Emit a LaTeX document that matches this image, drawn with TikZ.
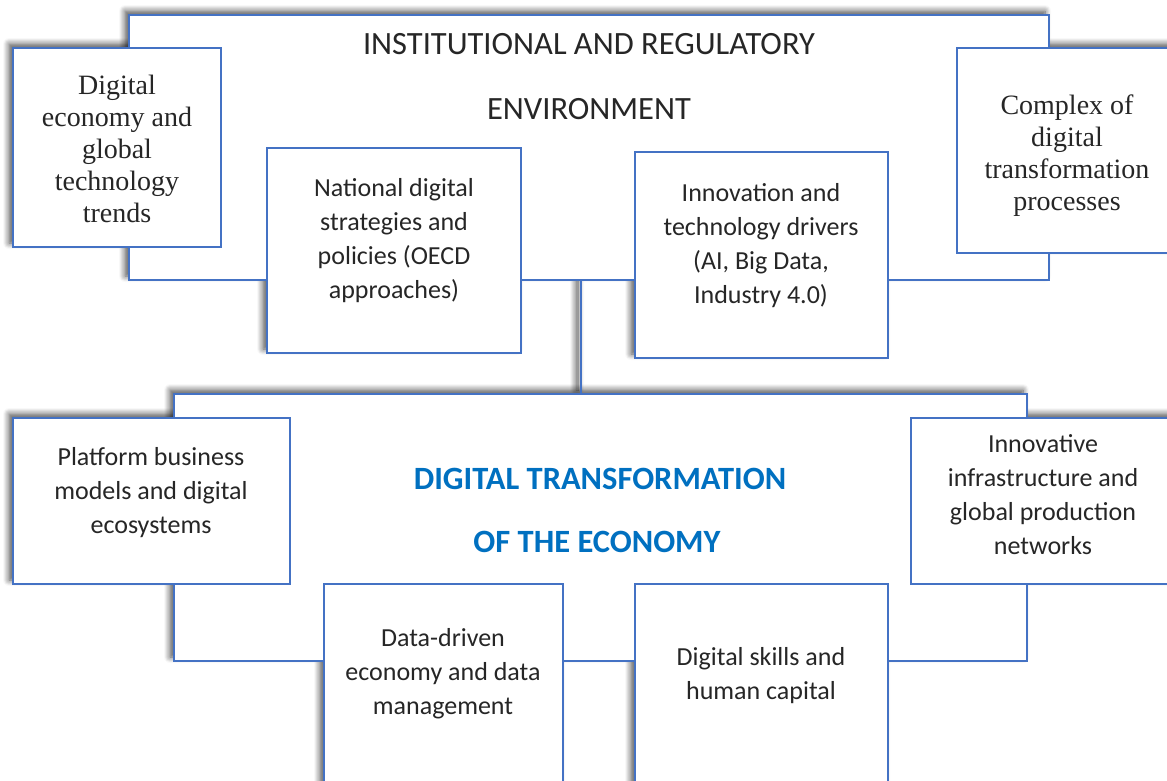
\documentclass[tikz,border=0pt]{standalone}
\usepackage{fontspec}
\setmainfont{Liberation Serif}
\newfontfamily\calfont{Carlito}
\usetikzlibrary{shadows.blur}
\definecolor{edge}{HTML}{4472C4}
\definecolor{ink}{HTML}{262626}
\definecolor{headblue}{HTML}{0070C0}
\begin{document}
\begin{tikzpicture}[x=1pt,y=-1pt,
  box/.style={draw=edge, line width=2.4pt, fill=white, inner sep=0pt, outer sep=0pt},
  shade/.style={draw=none, inner sep=0pt, outer sep=0pt,
    blur shadow={shadow xshift=-4pt, shadow yshift=4pt, shadow blur radius=6pt,
      shadow blur steps=8, shadow opacity=70}},
  serif/.style={align=center, text=ink, font=\fontsize{28}{32}\selectfont},
  sans/.style={align=center, text=ink, font=\calfont\fontsize{26}{34}\selectfont},
  head/.style={text=ink, font=\calfont\fontsize{32.5}{36}\selectfont},
  core/.style={text=headblue, font=\calfont\bfseries\fontsize{32.5}{36}\selectfont},
]
\useasboundingbox (0,0) rectangle (1167,781);
\clip (0,0) rectangle (1167,781);

% soft shadows of every block, laid down before any block is filled
\foreach \cx/\cy/\w/\h in {589/147.5/920/265, 117/147.5/208/199, 1066/150.5/218/205,
    394/250.5/254/205, 761.5/255/253/206, 600.5/527.5/853/267,
    151.5/501/277/166, 1043/501/264/166, 443.5/692/239/216, 761.5/692/253/216,
    581/337/2/114}
  \path (\cx,\cy) node[shade, minimum width=\w, minimum height=\h] {};

% institutional and regulatory environment
\node[box, minimum width=920, minimum height=265] (env) at (589,147.5) {};
\node[head] (envA) at (589,44) {INSTITUTIONAL AND REGULATORY};
\node[head] (envB) at (589,109) {ENVIRONMENT};

\node[box, minimum width=208, minimum height=199] (trends) at (117,147.5) {};
\node[serif] (trendsT) at (117,149)
  {Digital\\economy and\\global\\technology\\trends};

\node[box, minimum width=218, minimum height=205] (complex) at (1066,150.5) {};
\node[serif] (complexT) at (1067,156)
  {Complex of\\digital\\transformation\\processes};

\node[box, minimum width=254, minimum height=205] (policy) at (394,250.5) {};
\node[sans] (policyT) at (394,241)
  {National digital\\strategies and\\policies (OECD\\approaches)};

\node[box, minimum width=253, minimum height=206] (drivers) at (761.5,255) {};
\node[sans] (driversT) at (761,246)
  {Innovation and\\technology drivers\\(AI, Big Data,\\Industry 4.0)};

% link between the two frames
\coordinate (linkx) at (581,0);
\draw[edge, line width=2.4pt] (linkx |- env.south) -- (linkx |- 0,394);

% digital transformation of the economy
\node[box, minimum width=853, minimum height=267] (dte) at (600.5,527.5) {};
\node[core] (dteA) at (600,479) {DIGITAL TRANSFORMATION};
\node[core] (dteB) at (597,542) {OF THE ECONOMY};

\node[box, minimum width=277, minimum height=166] (platform) at (151.5,501) {};
\node[sans] (platformT) at (151,493)
  {Platform business\\models and digital\\ecosystems};

\node[box, minimum width=264, minimum height=166] (infra) at (1043,501) {};
\node[sans] (infraT) at (1043,495)
  {Innovative\\infrastructure and\\global production\\networks};

\node[box, minimum width=239, minimum height=216] (data) at (443.5,692) {};
\node[sans] (dataT) at (443,674)
  {Data-driven\\economy and data\\management};

\node[box, minimum width=253, minimum height=216] (skills) at (761.5,692) {};
\node[sans] (skillsT) at (761,676)
  {Digital skills and\\human capital};
\end{tikzpicture}
\end{document}
